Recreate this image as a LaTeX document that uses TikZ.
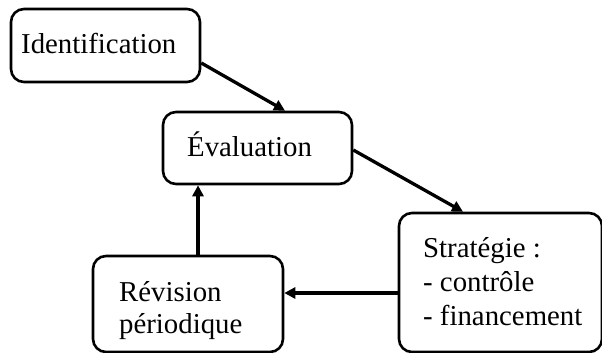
\documentclass[tikz,border=0pt]{standalone}
\usepackage{fontspec}
\setmainfont{Liberation Serif}
\usetikzlibrary{arrows.meta}
\begin{document}
\begin{tikzpicture}[x=1pt,y=-1pt,
  box/.style={draw=black,line width=2.6pt,rounded corners=13pt,inner sep=0pt},
  lbl/.style={anchor=base west,inner sep=0pt,font=\fontsize{28.8pt}{34pt}\selectfont},
  flow/.style={line width=3.3pt,-{Triangle[length=11pt,width=11pt]}}]
\clip (0,0) rectangle (602,353);
\node[box,minimum width=189pt,minimum height=73pt] (id) at (105.5,45.5) {};
\node[box,minimum width=189pt,minimum height=72pt] (ev) at (257.5,148) {};
\node[box,minimum width=203pt,minimum height=139pt] (st) at (500.5,282.5) {};
\node[box,minimum width=190pt,minimum height=96pt] (rev) at (188,304) {};
\node[lbl] (tid) at (21,53) {Identification};
\node[lbl] (tev) at (187,156) {Évaluation};
\node[lbl] (tst1) at (423,257) {Stratégie :};
\node[lbl] (tst2) at (423,291) {- contrôle};
\node[lbl] (tst3) at (423,325) {- financement};
\node[lbl] (trev1) at (119,301) {Révision};
\node[lbl] (trev2) at (119,333) {périodique};
\draw[flow] ([yshift=-17.5pt]id.east) -- ([xshift=27.5pt]ev.north);
\draw[flow] ([yshift=-2pt]ev.east) -- ([xshift=-37.5pt]st.north);
\draw[flow] ([yshift=-10.5pt]st.west) -- ([yshift=-10.5pt]st.west -| rev.east);
\draw[flow] ([xshift=10pt]rev.north) -- ([xshift=10pt]rev.north |- ev.south);
\end{tikzpicture}
\end{document}
